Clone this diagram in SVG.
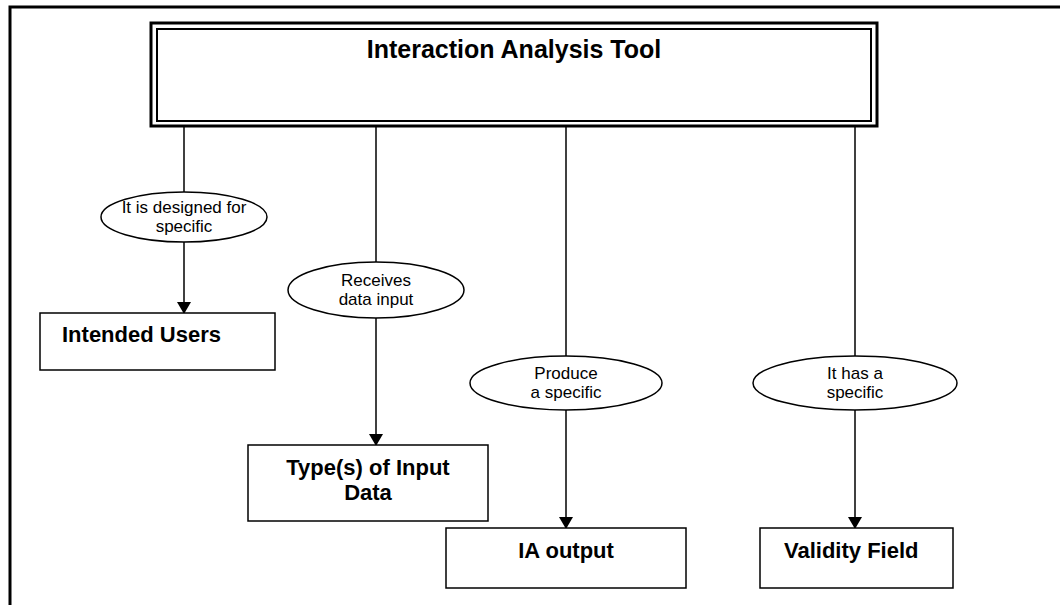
<svg xmlns="http://www.w3.org/2000/svg" width="1060" height="605" viewBox="0 0 1060 605">
<defs>
<marker id="arr" markerWidth="12" markerHeight="14" refX="11" refY="7" orient="auto" markerUnits="userSpaceOnUse">
<path d="M0,0 L12,7 L0,14 Z" fill="#000"/>
</marker>
<style>
.frame{fill:none;stroke:#000;stroke-width:3}
.box{fill:#fff;stroke:#000;stroke-width:1.5}
.ell{fill:#fff;stroke:#000;stroke-width:1.5}
.conn{fill:none;stroke:#000;stroke-width:1.5}
.lbl{font-family:"Liberation Sans",Arial,sans-serif;font-size:17px;fill:#000;text-anchor:middle}
.bold{font-family:"Liberation Sans",Arial,sans-serif;font-size:22px;font-weight:bold;fill:#000}
.title{font-family:"Liberation Sans",Arial,sans-serif;font-size:25px;font-weight:bold;fill:#000;text-anchor:middle}
</style>
</defs>
<rect width="1060" height="605" fill="#fff"/>
<path class="frame" d="M10,605 L10,7 L1060,7"/>
<g id="connectors">
<line class="conn" x1="184" y1="126" x2="184" y2="192"/>
<line class="conn" x1="184" y1="242" x2="184" y2="313" marker-end="url(#arr)"/>
<line class="conn" x1="376" y1="126" x2="376" y2="262"/>
<line class="conn" x1="376" y1="318" x2="376" y2="445" marker-end="url(#arr)"/>
<line class="conn" x1="566" y1="126" x2="566" y2="356"/>
<line class="conn" x1="566" y1="410" x2="566" y2="528" marker-end="url(#arr)"/>
<line class="conn" x1="855" y1="126" x2="855" y2="356"/>
<line class="conn" x1="855" y1="410" x2="855" y2="528" marker-end="url(#arr)"/>
</g>
<g id="tool">
<rect x="151" y="23" width="726" height="103" fill="#fff" stroke="#000" stroke-width="3"/>
<rect x="157" y="29" width="714" height="92" fill="none" stroke="#000" stroke-width="2"/>
<text class="title" x="514" y="58">Interaction Analysis Tool</text>
</g>
<g id="e1">
<ellipse class="ell" cx="184" cy="217" rx="83" ry="25"/>
<text class="lbl" x="184" y="213">It is designed for</text>
<text class="lbl" x="184" y="232">specific</text>
</g>
<g id="e2">
<ellipse class="ell" cx="376" cy="290" rx="88" ry="28"/>
<text class="lbl" x="376" y="286">Receives</text>
<text class="lbl" x="376" y="305">data input</text>
</g>
<g id="e3">
<ellipse class="ell" cx="566" cy="383" rx="96" ry="27"/>
<text class="lbl" x="566" y="379">Produce</text>
<text class="lbl" x="566" y="398">a specific</text>
</g>
<g id="e4">
<ellipse class="ell" cx="855" cy="383" rx="102" ry="27"/>
<text class="lbl" x="855" y="379">It has a</text>
<text class="lbl" x="855" y="398">specific</text>
</g>
<g id="users">
<rect class="box" x="40" y="313" width="235" height="57"/>
<text class="bold" x="62" y="342">Intended Users</text>
</g>
<g id="types">
<rect class="box" x="248" y="445" width="240" height="76"/>
<text class="bold" x="368" y="475" text-anchor="middle">Type(s) of Input</text>
<text class="bold" x="368" y="500" text-anchor="middle">Data</text>
</g>
<g id="output">
<rect class="box" x="446" y="528" width="240" height="60"/>
<text class="bold" x="566" y="558" text-anchor="middle">IA output</text>
</g>
<g id="validity">
<rect class="box" x="760" y="528" width="193" height="60"/>
<text class="bold" x="784" y="558">Validity Field</text>
</g>
</svg>
